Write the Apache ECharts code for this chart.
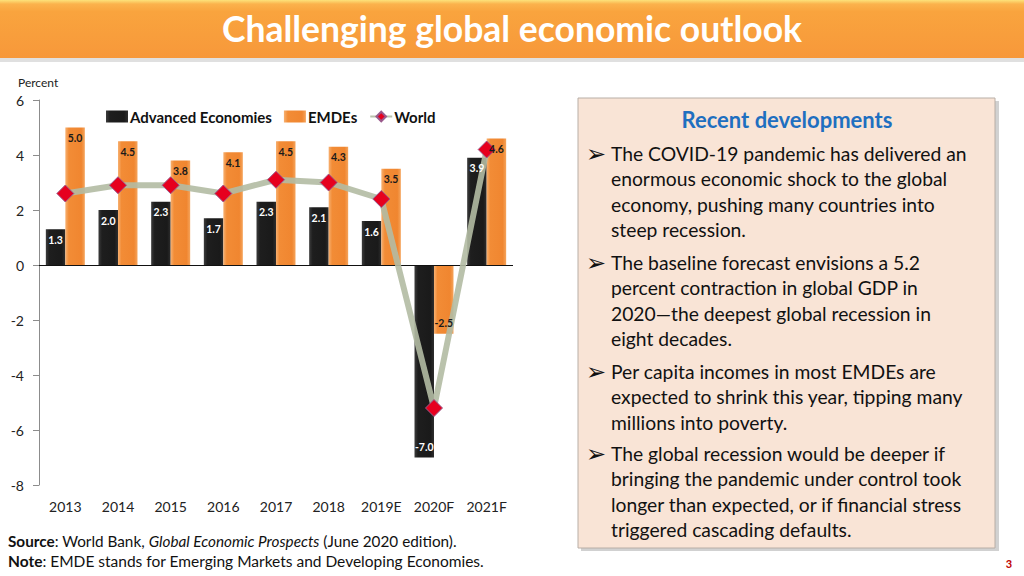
<!DOCTYPE html>
<html>
<head>
<meta charset="utf-8">
<script src="https://cdn.jsdelivr.net/npm/echarts@6/dist/echarts.min.js"></script>
<style>
html,body{margin:0;padding:0;background:#fff;}
#main{width:1024px;height:576px;}
</style>
</head>
<body>
<div id="main"></div>
<script>
var categories = ['2013','2014','2015','2016','2017','2018','2019E','2020F','2021F'];
var advancedEconomies = [1.3, 2.0, 2.3, 1.7, 2.3, 2.1, 1.6, -7.0, 3.9];
var emdes = [5.0, 4.5, 3.8, 4.1, 4.5, 4.3, 3.5, -2.5, 4.6];
var world = [2.6, 2.9, 2.9, 2.6, 3.1, 3.0, 2.4, -5.2, 4.2];
var yTicks = [6, 4, 2, 0, -2, -4, -6, -8];

var FONT = 'Lato';
var chart = echarts.init(document.getElementById('main'), null, {renderer: 'svg'});

function barData(vals) {
  return vals.map(function (v) {
    return {value: v, label: {position: v < 0 ? 'insideBottom' : 'insideTop'}};
  });
}

var blackGrad = new echarts.graphic.LinearGradient(0, 0, 1, 0, [
  {offset: 0, color: '#3c3c3c'}, {offset: 0.18, color: '#1e1e1e'},
  {offset: 0.82, color: '#1a1a1a'}, {offset: 1, color: '#2e2e2e'}]);
var orangeGrad = new echarts.graphic.LinearGradient(0, 0, 1, 0, [
  {offset: 0, color: '#f7b070'}, {offset: 0.18, color: '#f28c36'},
  {offset: 0.82, color: '#f08630'}, {offset: 1, color: '#f5a45c'}]);

var bullets = [
  ['The COVID-19 pandemic has delivered an', 'enormous economic shock to the global', 'economy, pushing many countries into', 'steep recession.'],
  ['The baseline forecast envisions a 5.2', 'percent contraction in global GDP in', '2020\u2014the deepest global recession in', 'eight decades.'],
  ['Per capita incomes in most EMDEs are', 'expected to shrink this year, tipping many', 'millions into poverty.'],
  ['The global recession would be deeper if', 'bringing the pandemic under control took', 'longer than expected, or if financial stress', 'triggered cascading defaults.']
];
var bulletStarts = [153, 262, 371, 453];
var lineH = 25.6;

var graphics = [
  {type: 'rect', shape: {x: 0, y: 2, width: 1024, height: 60}, style: {fill: 'rgba(0,0,0,0.12)'}, z: 0},
  {type: 'rect', shape: {x: 0, y: 0, width: 1024, height: 58},
   style: {fill: new echarts.graphic.LinearGradient(0, 0, 0, 1, [
     {offset: 0, color: '#fde27a'}, {offset: 0.07, color: '#fbb24c'},
     {offset: 0.2, color: '#f9a43e'}, {offset: 1, color: '#f7983a'}])}, z: 1},
  {type: 'text', x: 512, y: 28, z: 2,
   style: {text: 'Challenging global economic outlook', fill: '#ffffff', font: 'bold 35.5px ' + FONT, textAlign: 'center', textVerticalAlign: 'middle'}},
  {type: 'text', left: 18, top: 76, style: {text: 'Percent', fill: '#222', font: '12px ' + FONT}},
  {type: 'rect', shape: {x: 581, y: 101, width: 418, height: 450}, style: {fill: 'rgba(0,0,0,0.18)'}, z: 0},
  {type: 'rect', shape: {x: 578, y: 98, width: 417, height: 450},
   style: {fill: '#f9e4d6', stroke: '#b8aea6', lineWidth: 1}, z: 1},
  {type: 'text', x: 787, y: 119, z: 2,
   style: {text: 'Recent developments', fill: '#1f6fc0', font: 'bold 22px ' + FONT, textAlign: 'center', textVerticalAlign: 'middle'}}
];
bullets.forEach(function (lines, i) {
  var y0 = bulletStarts[i];
  graphics.push({type: 'text', x: 586, y: y0 + 1, z: 2,
    style: {text: '\u27A2', fill: '#111', font: '24px "DejaVu Sans"', textVerticalAlign: 'middle'}});
  lines.forEach(function (t, j) {
    graphics.push({type: 'text', x: 611, y: y0 + j * lineH, z: 2,
      style: {text: t, fill: '#111', font: '19.3px ' + FONT, textVerticalAlign: 'middle'}});
  });
});
graphics.push({type: 'text', x: 8, y: 541, z: 2,
  style: {text: '{b|Source}: World Bank, {i|Global Economic Prospects} (June 2020 edition).', textVerticalAlign: 'middle',
    fill: '#111', font: '15.3px ' + FONT,
    rich: {b: {fontWeight: 'bold', fontSize: 15.3, fontFamily: FONT, fill: '#111'}, i: {fontStyle: 'italic', fontSize: 15.3, fontFamily: FONT, fill: '#111'}}}});
graphics.push({type: 'text', x: 8, y: 561, z: 2,
  style: {text: '{b|Note}: EMDE stands for Emerging Markets and Developing Economies.', textVerticalAlign: 'middle',
    fill: '#111', font: '15.5px ' + FONT,
    rich: {b: {fontWeight: 'bold', fontSize: 15.5, fontFamily: FONT, fill: '#111'}}}});
graphics.push({type: 'text', x: 1009, y: 563, z: 2,
  style: {text: '3', fill: '#c00000', font: 'bold 11px ' + FONT, textAlign: 'center', textVerticalAlign: 'middle'}});

function labelFmt(p) { return Number(p.value).toFixed(1); }

var option = {
  animation: false,
  backgroundColor: '#ffffff',
  textStyle: {fontFamily: FONT},
  grid: {left: 39, right: 511, top: 100, bottom: 91, containLabel: false},
  legend: {
    left: 101, top: 104, itemWidth: 22, itemHeight: 12, itemGap: 12,
    textStyle: {fontFamily: FONT, fontWeight: 'bold', fontSize: 15, color: '#111', padding: [0, 0, 0, -3]},
    data: [
      {name: 'Advanced Economies', icon: 'rect'},
      {name: 'EMDEs', icon: 'rect'},
      {name: 'World'}
    ]
  },
  xAxis: [{
    type: 'category', data: categories,
    axisLine: {show: false}, axisTick: {show: false},
    axisLabel: {fontFamily: FONT, fontSize: 14, color: '#222', margin: 14, interval: 0}
  }, {
    type: 'category', data: categories, show: false, position: 'bottom'
  }],
  yAxis: {
    type: 'value', min: -8, max: 6, interval: 2,
    splitLine: {show: false},
    axisLine: {show: true, lineStyle: {color: '#8c8c8c', width: 1}},
    axisTick: {show: true, length: 6, lineStyle: {color: '#8c8c8c'}},
    axisLabel: {fontFamily: FONT, fontSize: 14, color: '#222', margin: 15}
  },
  series: [
    {
      name: 'Advanced Economies', type: 'bar', barWidth: 19.5, barGap: '0%', xAxisIndex: 0,
      itemStyle: {color: blackGrad},
      data: advancedEconomies,
      markLine: {
        silent: true, symbol: 'none', label: {show: false},
        lineStyle: {color: '#111', width: 1, type: 'solid'},
        data: [{yAxis: 0}]
      },
      z: 2
    },
    {
      name: 'EMDEs', type: 'bar', barWidth: 19.5, barGap: '0%', xAxisIndex: 0,
      itemStyle: {color: orangeGrad},
      data: emdes,
      z: 2
    },
    {
      name: 'World', type: 'line', data: world, xAxisIndex: 0,
      symbol: 'diamond', symbolSize: 17,
      lineStyle: {color: '#b3bba3', width: 6, opacity: 0.9},
      itemStyle: {color: '#e6001e', borderColor: '#9a5a8c', borderWidth: 1},
      z: 5
    },
    {
      name: 'AE labels', type: 'bar', barWidth: 19.5, barGap: '0%', xAxisIndex: 1,
      itemStyle: {color: 'rgba(0,0,0,0)'}, silent: true,
      label: {show: true, color: '#ffffff', fontWeight: 'bold', fontSize: 10.5, fontFamily: FONT, distance: 5, formatter: labelFmt},
      data: barData(advancedEconomies),
      z: 10
    },
    {
      name: 'EMDE labels', type: 'bar', barWidth: 19.5, barGap: '0%', xAxisIndex: 1,
      itemStyle: {color: 'rgba(0,0,0,0)'}, silent: true,
      label: {show: true, color: '#1a1a1a', fontWeight: 'bold', fontSize: 10.5, fontFamily: FONT, distance: 5, formatter: labelFmt},
      data: barData(emdes),
      z: 10
    }
  ],
  graphic: graphics
};
chart.setOption(option);
</script>
</body>
</html>
